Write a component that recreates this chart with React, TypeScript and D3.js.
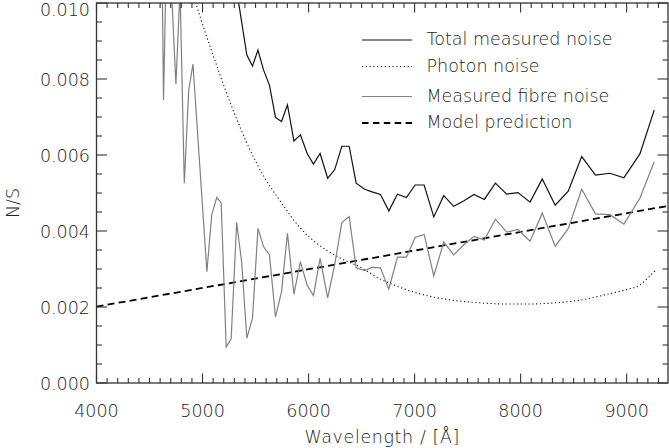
import React, { useRef, useEffect } from 'react';
import * as d3 from 'd3';

// shared wavelength grid (Angstrom) of the measured curves
const wavelength = [
  4597, 4632, 4669, 4749, 4788, 4828, 4870, 4910, 5041, 5087, 5134, 5176, 5223, 5270, 5322, 5369,
  5418, 5471, 5523, 5575, 5631, 5688, 5745, 5801, 5862, 5923, 5987, 6046, 6109, 6180, 6246, 6314,
  6383, 6449, 6529, 6599, 6678, 6757, 6838, 6923, 7005, 7090, 7181, 7275, 7369, 7462, 7561, 7658,
  7762, 7869, 7975, 8089, 8204, 8326, 8449, 8576, 8706, 8843, 8974, 9125, 9260,
];

const fibreNoise = [
  0.01666, 0.00745, 0.01258, 0.00786, 0.01036, 0.00526, 0.00771, 0.00839, 0.00293, 0.00443, 0.00488,
  0.00474, 0.00095, 0.00116, 0.00422, 0.00318, 0.00118, 0.0017, 0.00407, 0.00359, 0.00337, 0.00174,
  0.0024, 0.00394, 0.00234, 0.00319, 0.00257, 0.0023, 0.00328, 0.00224, 0.00311, 0.00422, 0.00438,
  0.00303, 0.00296, 0.00304, 0.00303, 0.00247, 0.00331, 0.00331, 0.00383, 0.00391, 0.00282, 0.00371,
  0.00337, 0.00363, 0.00386, 0.00376, 0.00431, 0.00397, 0.00404, 0.00373, 0.00447, 0.0036, 0.00406,
  0.0051, 0.00445, 0.00443, 0.00418, 0.00486, 0.00582,
];

// total noise is off the top of the plot below ~5270 A
const totalNoise = [
  null, null, null, null, null, null, null, null, null, null, null, null, null,
  0.0118, 0.01034, 0.0095, 0.00863, 0.00834, 0.00876, 0.00824, 0.00784, 0.00699, 0.00688,
  0.00732, 0.00637, 0.00653, 0.00604, 0.00576, 0.00604, 0.00539, 0.00561, 0.00623, 0.00623,
  0.00526, 0.0051, 0.00503, 0.00496, 0.00453, 0.00497, 0.00488, 0.00521, 0.00521, 0.00437,
  0.00493, 0.00465, 0.00479, 0.00496, 0.00483, 0.00526, 0.00497, 0.00501, 0.00476, 0.00537,
  0.00468, 0.00505, 0.00596, 0.00547, 0.00552, 0.0054, 0.00603, 0.00718,
];

const photonWavelength = [
  4912, 4978, 5129, 5280, 5431, 5582, 5732, 5921, 6109, 6298, 6486, 6675, 6910, 7146, 7382, 7617,
  7853, 8089, 8324, 8560, 8795, 8984, 9125, 9191, 9267,
];
const photonNoise = [
  0.01021, 0.00963, 0.00839, 0.00724, 0.00624, 0.00542, 0.00479, 0.00408, 0.00361, 0.00329, 0.00305,
  0.00274, 0.00247, 0.00228, 0.00217, 0.00211, 0.00208, 0.00208, 0.00211, 0.00218, 0.00232, 0.00245,
  0.00258, 0.00274, 0.00295,
];

const modelWavelength = [4000, 9390];
const modelPrediction = [0.00201, 0.00466];

const xTicks = [4000, 5000, 6000, 7000, 8000, 9000];
const yTicks = [0, 0.002, 0.004, 0.006, 0.008, 0.01];

const legendLabels = ['Total measured noise', 'Photon noise', 'Measured fibre noise', 'Model prediction'];

const W = 669;
const H = 448;
const FONT = '"DejaVu Sans", sans-serif';

const App = () => {
  const svgRef = useRef(null);

  useEffect(() => {
    d3.select(svgRef.current).selectAll('*').remove();
    const svg = d3.select(svgRef.current);

    const left = 96.5, right = 668, top = 3, bottom = 383;
    const x = d3.scaleLinear().domain([4000, 9390]).range([left, right]);
    const y = d3.scaleLinear().domain([0, 0.01]).range([bottom, top]);

    svg.append('defs').append('clipPath').attr('id', 'plot-clip')
      .append('rect').attr('x', left).attr('y', top).attr('width', right - left).attr('height', bottom - top);

    const plot = svg.append('g').attr('clip-path', 'url(#plot-clip)');

    const line = d3.line()
      .defined((d) => d[1] != null)
      .x((d) => x(d[0]))
      .y((d) => y(d[1]));

    // model prediction (dashed)
    plot.append('path')
      .datum(modelWavelength.map((w, i) => [w, modelPrediction[i]]))
      .attr('d', line)
      .attr('fill', 'none')
      .attr('stroke', '#000')
      .attr('stroke-width', 1.8)
      .attr('stroke-dasharray', '7 4.2');

    // photon noise (dotted)
    plot.append('path')
      .datum(photonWavelength.map((w, i) => [w, photonNoise[i]]))
      .attr('d', line.curve(d3.curveMonotoneX))
      .attr('fill', 'none')
      .attr('stroke', '#111')
      .attr('stroke-width', 1.1)
      .attr('stroke-dasharray', '1.2 2.6');
    line.curve(d3.curveLinear);

    // measured fibre noise (grey)
    plot.append('path')
      .datum(wavelength.map((w, i) => [w, fibreNoise[i]]))
      .attr('d', line)
      .attr('fill', 'none')
      .attr('stroke', '#808080')
      .attr('stroke-width', 1.2);

    // total measured noise (black)
    plot.append('path')
      .datum(wavelength.map((w, i) => [w, totalNoise[i]]))
      .attr('d', line)
      .attr('fill', 'none')
      .attr('stroke', '#111')
      .attr('stroke-width', 1.2);

    // frame
    const axisColor = '#333';
    svg.append('rect')
      .attr('x', left).attr('y', top).attr('width', right - left).attr('height', bottom - top)
      .attr('fill', 'none').attr('stroke', axisColor).attr('stroke-width', 1.3);

    // ticks on all four sides, pointing inward
    const xMinor = d3.range(4000, 9391, 100);
    const ticks = svg.append('g').attr('stroke', axisColor).attr('stroke-width', 1.1);
    xMinor.forEach((v) => {
      const len = v % 1000 === 0 ? 9.5 : 5;
      ticks.append('line').attr('x1', x(v)).attr('x2', x(v)).attr('y1', bottom).attr('y2', bottom - len);
      ticks.append('line').attr('x1', x(v)).attr('x2', x(v)).attr('y1', top).attr('y2', top + len);
    });
    const yMinor = d3.range(0, 0.01001, 0.0005);
    yMinor.forEach((v, i) => {
      const len = i % 4 === 0 ? 10.5 : 5.5;
      ticks.append('line').attr('y1', y(v)).attr('y2', y(v)).attr('x1', left).attr('x2', left + len);
      ticks.append('line').attr('y1', y(v)).attr('y2', y(v)).attr('x1', right).attr('x2', right - len);
    });

    const textColor = '#222';
    // x tick labels
    svg.append('g').selectAll('text').data(xTicks).join('text')
      .attr('x', (d) => x(d))
      .attr('y', 417)
      .attr('text-anchor', 'middle')
      .attr('font-family', FONT)
      .attr('font-size', 17.5)
      .attr('font-weight', 300)
      .attr('fill', textColor)
      .text((d) => d);

    // y tick labels
    svg.append('g').selectAll('text').data(yTicks).join('text')
      .attr('x', 90)
      .attr('y', (d) => Math.max(y(d) + 7, 16))
      .attr('text-anchor', 'end')
      .attr('font-family', FONT)
      .attr('font-size', 17.5)
      .attr('font-weight', 300)
      .attr('fill', textColor)
      .text((d) => d3.format('.3f')(d));

    // axis titles
    svg.append('text')
      .attr('x', (left + right) / 2)
      .attr('y', 443)
      .attr('text-anchor', 'middle')
      .attr('font-family', FONT)
      .attr('font-size', 17.5)
      .attr('font-weight', 300)
      .attr('letter-spacing', 0.6)
      .attr('fill', textColor)
      .text('Wavelength / [Å]');

    svg.append('text')
      .attr('transform', 'translate(19,203) rotate(-90)')
      .attr('text-anchor', 'middle')
      .attr('font-family', FONT)
      .attr('font-size', 17.5)
      .attr('font-weight', 300)
      .attr('fill', textColor)
      .text('N/S');

    // legend
    const legendStyles = [
      { stroke: '#111', width: 1.2, dash: null },
      { stroke: '#111', width: 1.1, dash: '1.2 2.6' },
      { stroke: '#808080', width: 1.2, dash: null },
      { stroke: '#000', width: 1.8, dash: '6.5 4.4' },
    ];
    const legendY = [40, 66.5, 96.5, 123];
    const legend = svg.append('g');
    legendLabels.forEach((label, i) => {
      const st = legendStyles[i];
      legend.append('line')
        .attr('x1', 362).attr('x2', 412)
        .attr('y1', legendY[i]).attr('y2', legendY[i])
        .attr('stroke', st.stroke)
        .attr('stroke-width', st.width)
        .attr('stroke-dasharray', st.dash);
      legend.append('text')
        .attr('x', 426.5)
        .attr('y', legendY[i] + 5)
        .attr('font-family', FONT)
        .attr('font-size', 17.5)
        .attr('font-weight', 300)
        .attr('fill', textColor)
        .text(label);
    });
  }, []);

  return (
    <svg
      ref={svgRef}
      width={W}
      height={H}
      style={{ position: 'absolute', left: 0, top: 0, background: '#fff' }}
    ></svg>
  );
};

export default App;
